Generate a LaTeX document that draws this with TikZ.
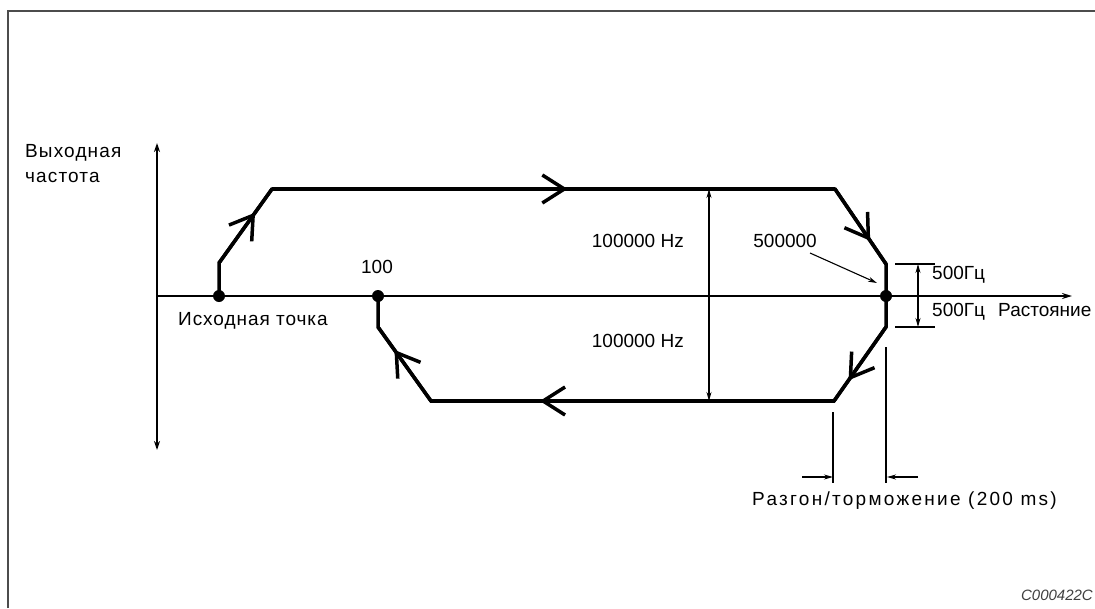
\documentclass[tikz,border=0pt]{standalone}
\usepackage{fontspec}
\setmainfont{Liberation Sans}
\usetikzlibrary{arrows.meta, decorations.markings, positioning}
\tikzstyle{profile} = [line width=3.5pt, line join=miter]
\tikzstyle{axis} = [line width=1.8pt]
\tikzstyle{dimline} = [line width=1.1pt]
\tikzstyle{tip} = [-{Stealth[length=9pt,width=5pt]}]
\tikzstyle{twotips} = [{Stealth[length=9pt,width=5pt]}-{Stealth[length=9pt,width=5pt]}]
\tikzstyle{dot} = [circle, fill=black, inner sep=0pt, minimum size=12pt]
\tikzstyle{lbl} = [font=\fontsize{19}{23}\selectfont, inner sep=0pt]
\tikzset{chevron/.style={postaction={decorate}, decoration={markings,
  mark=at position #1 with {\arrow[line width=3.5pt]{Straight Barb[length=22pt,width=28pt]}}}}}

\begin{document}
\begin{tikzpicture}[x=1pt, y=-1pt]
\useasboundingbox (0,0) rectangle (1095,608);

% Frame
\draw[line width=2pt, black!70] (8,608) -- (8,11) -- (1095,11);

% Axes
\coordinate (ybot) at (157,450);
\coordinate (ytop) at (157,143);
\coordinate (xorg) at (157,296);
\coordinate (xend) at (1072,296);
\draw[axis, {Stealth[length=9pt,width=6pt]}-{Stealth[length=9pt,width=6pt]}] (ybot) -- (ytop);
\draw[axis, -{Stealth[length=10pt,width=6pt]}] (xorg) -- (xend);

% Points on the axis
\node[dot] (home) at (219,296) {};
\node[dot] (pos500) at (886,296) {};
\node[dot] (pos100) at (378,296) {};

% Frequency profile
\coordinate (p1) at (219,263);
\coordinate (p2) at (272,189);
\coordinate (p3) at (835,189);
\coordinate (p4) at (886,264);
\coordinate (p5) at (886,327);
\coordinate (p6) at (834,401);
\coordinate (p7) at (431,401);
\coordinate (p8) at (378,327);
\draw[profile] (home.center) -- (p1) -- (p2) -- (p3) -- (p4) -- (pos500.center)
  -- (p5) -- (p6) -- (p7) -- (p8) -- (pos100.center);
\draw[profile, chevron=0.68] (p1) -- (p2);
\draw[profile, chevron=0.525] (p2) -- (p3);
\draw[profile, chevron=0.69] (p3) -- (p4);
\draw[profile, chevron=0.72] (p5) -- (p6);
\draw[profile, chevron=0.73] (p6) -- (p7);
\draw[profile, chevron=0.69] (p7) -- (p8);

% Dimensions
\draw[dimline, twotips] (709,189) -- (709,401);
\node[lbl, anchor=base east] (hzup) at (684,247) {100000 Hz};
\node[lbl, anchor=base east] (hzdown) at (684,347) {100000 Hz};

\node[lbl, anchor=base east] (lbl500k) at (817,247) {500000};
\coordinate (ptr) at (810,253);
\coordinate (ptrend) at (877,283);
\draw[dimline, tip] (ptr) -- (ptrend);

\coordinate (t1) at (895,264);
\coordinate (t2) at (935,264);
\coordinate (t3) at (895,327);
\coordinate (t4) at (935,327);
\draw[dimline] (t1) -- (t2);
\draw[dimline] (t3) -- (t4);
\draw[dimline, twotips] (918,264) -- (918,327);
\node[lbl, anchor=base west] (hzsmallup) at (932,279) {500Гц};
\node[lbl, anchor=base west] (hzsmalldown) at (932,316) {500Гц};
\node[lbl, anchor=base west] (xlabel) at (998,316) {Растояние};

\coordinate (e1) at (833,412);
\coordinate (e2) at (833,483);
\coordinate (e3) at (886,347);
\coordinate (e4) at (886,483);
\draw[dimline] (e1) -- (e2);
\draw[dimline] (e3) -- (e4);
\coordinate (a1) at (802,477);
\coordinate (a2) at (833,477);
\coordinate (a3) at (918,477);
\coordinate (a4) at (887,477);
\draw[dimline, tip] (a1) -- (a2);
\draw[dimline, tip] (a3) -- (a4);
\node[lbl, anchor=base west] (ramp) at (752,505) {\addfontfeature{LetterSpace=12}Разгон/торможение (200 ms)};

% Labels
\node[lbl, anchor=base west] (ylab1) at (25,157) {\addfontfeature{LetterSpace=6}Выходная};
\node[lbl, anchor=base west] (ylab2) at (25,182) {\addfontfeature{LetterSpace=6}частота};
\node[lbl, anchor=base west] (homelbl) at (178,325) {\addfontfeature{LetterSpace=5}Исходная точка};
\node[lbl, anchor=base] (lbl100) at (377,273) {100};
\node[font=\fontsize{15}{18}\selectfont\itshape, text=black!75, inner sep=0pt, anchor=base east] (code) at (1093,600) {C000422C};

\end{tikzpicture}
\end{document}
